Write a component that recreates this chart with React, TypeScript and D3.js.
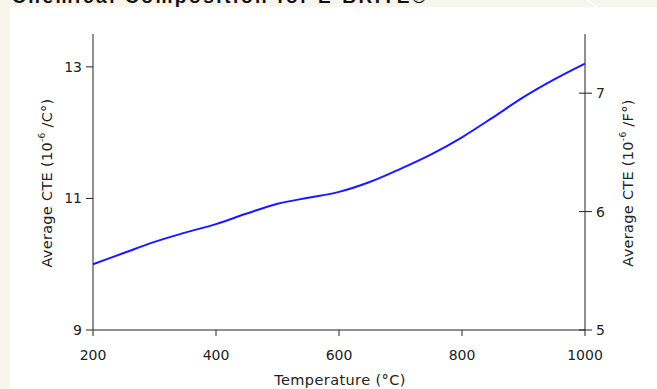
import React from "react";
import * as d3 from "d3";

const temps = [200, 250, 300, 350, 400, 450, 500, 550, 600, 650, 700, 750, 800, 850, 900, 950, 1000];
const cteC = [10.0, 10.17, 10.34, 10.48, 10.61, 10.77, 10.92, 11.01, 11.1, 11.25, 11.45, 11.67, 11.93, 12.23, 12.54, 12.81, 13.05];
const xTicks = [200, 400, 600, 800, 1000];
const yTicksC = [9, 11, 13];
const yTicksF = [5, 6, 7];

const W = 657;
const H = 389;
const FONT = "'DejaVu Sans', Verdana, sans-serif";

export default function App() {
  const x = d3.scaleLinear().domain([200, 1000]).range([93, 585]);
  const y = d3.scaleLinear().domain([9, 13.5]).range([330, 34]);
  const yF = d3.scaleLinear().domain([5, 7.5]).range([330, 34]);
  const line = d3
    .line<number>()
    .x((_, i) => x(temps[i]))
    .y((d) => y(d))
    .curve(d3.curveMonotoneX);
  const textColor = "#222";
  const tickSize = 14;
  const titleSize = 14.5;
  return (
    <svg width={W} height={H} style={{ position: "absolute", left: 0, top: 0 }}>
      <rect x={0} y={0} width={W} height={H} fill="#f8f5ec" />
      <rect x={10} y={7} width={W - 10} height={H - 7} fill="#ffffff" />
      <line x1={587} y1={0} x2={597} y2={7} stroke="#ffffff" strokeWidth={1.5} />
      <text x={12} y={3} fontFamily="'Liberation Sans', Arial, sans-serif" fontWeight="bold" fontSize={19} textLength={414} fill="#111">
        Chemical Composition for E-BRITE®
      </text>
      {/* left axis */}
      <line x1={93} y1={y(13.5)} x2={93} y2={y(9)} stroke="#222" strokeWidth={1} />
      {yTicksC.map((t) => (
        <g key={"l" + t}>
          <line x1={86} x2={93} y1={y(t)} y2={y(t)} stroke="#222" />
          <text x={82} y={y(t)} dy="0.36em" textAnchor="end" fontFamily={FONT} fontSize={tickSize} fill={textColor}>
            {t}
          </text>
        </g>
      ))}
      {/* right axis */}
      <line x1={585} y1={yF(7.5)} x2={585} y2={yF(5)} stroke="#222" strokeWidth={1} />
      {yTicksF.map((t) => (
        <g key={"r" + t}>
          <line x1={579} x2={592} y1={yF(t)} y2={yF(t)} stroke="#222" />
          <text x={596} y={yF(t)} dy="0.36em" textAnchor="start" fontFamily={FONT} fontSize={tickSize} fill={textColor}>
            {t}
          </text>
        </g>
      ))}
      {/* bottom axis */}
      <line x1={x(200)} x2={x(1000)} y1={330} y2={330} stroke="#222" />
      {xTicks.map((t) => (
        <g key={"b" + t}>
          <line x1={x(t)} x2={x(t)} y1={330} y2={336} stroke="#222" />
          <text x={x(t)} y={360} textAnchor="middle" fontFamily={FONT} fontSize={tickSize} fill={textColor}>
            {t}
          </text>
        </g>
      ))}
      <text x={340} y={385} textAnchor="middle" fontFamily={FONT} fontSize={titleSize} letterSpacing={0.4} fill={textColor}>
        Temperature (°C)
      </text>
      <text
        transform="translate(52,183) rotate(-90)"
        textAnchor="middle"
        fontFamily={FONT}
        fontSize={titleSize}
        letterSpacing={0.3}
        fill={textColor}
      >
        Average CTE (10
        <tspan fontSize={9} dy={-7}>-6</tspan>
        <tspan dy={7}> /C°)</tspan>
      </text>
      <text
        transform="translate(633,183) rotate(-90)"
        textAnchor="middle"
        fontFamily={FONT}
        fontSize={titleSize}
        letterSpacing={0.3}
        fill={textColor}
      >
        Average CTE (10
        <tspan fontSize={9} dy={-7}>-6</tspan>
        <tspan dy={7}> /F°)</tspan>
      </text>
      <path d={line(cteC) || ""} fill="none" stroke="#1a1aff" strokeWidth={2} />
    </svg>
  );
}
